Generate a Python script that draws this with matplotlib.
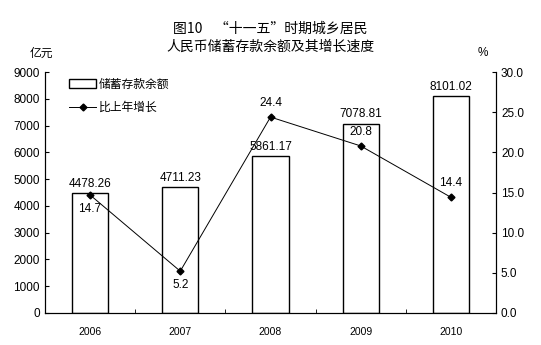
import matplotlib
matplotlib.use('Agg')
import matplotlib.pyplot as plt
import numpy as np

plt.rcParams['font.family'] = ['Liberation Sans', 'Noto Sans CJK SC', 'DejaVu Sans']

# 城乡居民人民币储蓄存款余额及增长速度
years = ['2006', '2007', '2008', '2009', '2010']
balance = [4478.26, 4711.23, 5861.17, 7078.81, 8101.02]
growth = [14.7, 5.2, 24.4, 20.8, 14.4]
growth_above = [False, False, True, True, True]

fig = plt.figure(figsize=(5.41, 3.45), dpi=100)
ax = fig.add_axes([0.083, 0.093, 0.834, 0.698])
ax2 = ax.twinx()

x = np.arange(len(years))
ax.bar(x, balance, width=0.4, facecolor='white', edgecolor='black',
       linewidth=1.0, label='储蓄存款余额', zorder=2)
for xi, v in zip(x, balance):
    ax.text(xi, v + 120, f'{v:.2f}', ha='center', va='bottom', fontsize=8.5)

ax.set_xlim(-0.5, len(years) - 0.5)
ax.set_ylim(0, 9000)
ax.set_yticks(range(0, 9001, 1000))
ax.set_xticks(x)
ax.set_xticklabels(years, fontsize=7.5)
ax.tick_params(axis='x', length=0, pad=10)
ax.set_xticks(np.arange(0.5, len(years) - 0.5, 1), minor=True)
ax.tick_params(axis='x', which='minor', direction='in', length=3)
ax.tick_params(axis='y', direction='in', length=3, labelsize=8.5)
ax.spines['top'].set_visible(False)
ax2.spines['top'].set_visible(False)

ax2.plot(x, growth, color='black', linewidth=0.7, marker='D', markersize=3.5,
         label='比上年增长', zorder=3)
for xi, g, up in zip(x, growth, growth_above):
    if up:
        ax2.text(xi, g + 1.0, f'{g:.1f}', ha='center', va='bottom', fontsize=8.5)
    else:
        ax2.text(xi, g - 1.0, f'{g:.1f}', ha='center', va='top', fontsize=8.5)
ax2.set_ylim(0, 30)
ticks2 = np.arange(0, 30.1, 5)
ax2.set_yticks(ticks2)
ax2.set_yticklabels([f'{t:.1f}' for t in ticks2])
ax2.tick_params(axis='y', direction='in', length=3, labelsize=8.5)

h1, l1 = ax.get_legend_handles_labels()
h2, l2 = ax2.get_legend_handles_labels()
ax2.legend(h1 + h2, l1 + l2, loc='upper left', bbox_to_anchor=(0.03, 1.02),
           frameon=False, handlelength=2.3, handleheight=0.8, handletextpad=0.2,
           labelspacing=0.85, prop={'family': ['Noto Sans CJK SC'], 'size': 8.5})

fig.text(0.5, 0.918, '图10    “十一五”时期城乡居民', ha='center', va='center',
         fontsize=10, family=['Noto Sans CJK SC'])
fig.text(0.5, 0.864, '人民币储蓄存款余额及其增长速度', ha='center', va='center',
         fontsize=10, family=['Noto Sans CJK SC'])
fig.text(0.076, 0.846, '亿元', ha='center', va='center', fontsize=8.5,
         family=['Noto Sans CJK SC'])
fig.text(0.892, 0.846, '%', ha='center', va='center', fontsize=8.5)

fig.savefig('out.png', dpi=100)
